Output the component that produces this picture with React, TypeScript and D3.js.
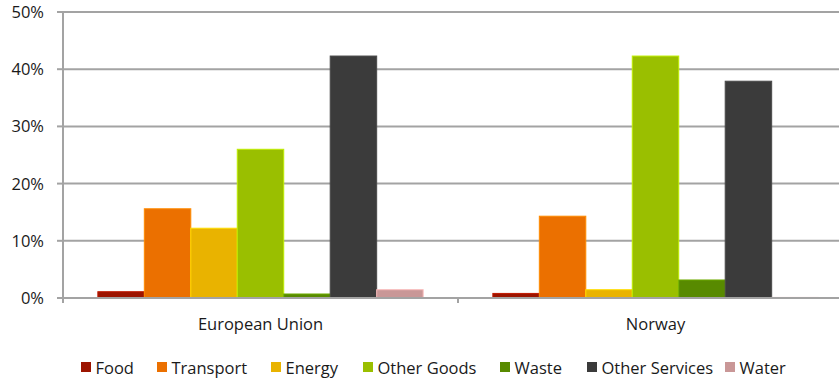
import React from "react";
import * as d3 from "d3";

const categories = ["European Union", "Norway"];
const seriesNames = ["Food", "Transport", "Energy", "Other Goods", "Waste", "Other Services", "Water"];
const seriesColors = ["#9c1400", "#eb7000", "#e9b300", "#9abf00", "#588a00", "#3b3b3b", "#c99797"];
const food = [1.1, 0.8];
const transport = [15.6, 14.3];
const energy = [12.2, 1.45];
const otherGoods = [26.0, 42.3];
const waste = [0.7, 3.15];
const otherServices = [42.3, 37.9];
const water = [1.45, 0.1];
const yTicks = [0, 10, 20, 30, 40, 50];

const seriesValues = [food, transport, energy, otherGoods, waste, otherServices, water];

const W = 839;
const H = 381;
const left = 63;
const right = 853;
const top = 12;
const bottom = 298;
const FONT = "'Open Sans', sans-serif";

export default function App() {
  const x0 = d3.scaleBand<string>().domain(categories).range([left, right]).paddingInner(0).paddingOuter(0);
  const bw = x0.bandwidth();
  const barW = bw / 8.5;
  const x1 = d3
    .scaleBand<string>()
    .domain(seriesNames)
    .range([barW * 0.75, bw - barW * 0.75])
    .padding(0);
  const y = d3.scaleLinear().domain([0, 50]).range([bottom, top]);
  const gridColor = "#a3a3a3";

  const legendX = [81, 157, 271, 363, 500, 587, 725];

  return (
    <div style={{ position: "absolute", left: 0, top: 0 }}>
      <svg width={W} height={H} style={{ display: "block", background: "#fff" }}>
        {yTicks.map((t) => (
          <g key={t}>
            <line x1={left} x2={W} y1={y(t)} y2={y(t)} stroke={gridColor} strokeWidth={2} />
            <line x1={left - 6} x2={left} y1={y(t)} y2={y(t)} stroke={gridColor} strokeWidth={2} />
            <text
              x={44}
              y={y(t)}
              dy="0.36em"
              textAnchor="end"
              fontFamily={FONT}
              fontSize={16.5}
              fill="#1a1a1a"
            >
              {t}%
            </text>
          </g>
        ))}
        <line x1={left} x2={left} y1={top} y2={bottom + 5} stroke={gridColor} strokeWidth={2} />
        {categories.map((c, ci) => (
          <g key={c}>
            {seriesNames.map((s, si) => {
              const v = seriesValues[si][ci];
              const bx = (x0(c) as number) + (x1(s) as number);
              const col = seriesColors[si];
              return (
                <rect
                  key={s}
                  x={bx}
                  y={y(v)}
                  width={x1.bandwidth()}
                  height={bottom - y(v)}
                  fill={col}
                  stroke={d3.color(col)!.brighter(0.6).formatHex()}
                  strokeWidth={1}
                />
              );
            })}
            <text
              x={(x0(c) as number) + bw / 2}
              y={330}
              textAnchor="middle"
              fontFamily={FONT}
              fontSize={16.5}
              fill="#1a1a1a"
            >
              {c}
            </text>
            <line
              x1={(x0(c) as number) + bw}
              x2={(x0(c) as number) + bw}
              y1={bottom}
              y2={bottom + 5}
              stroke={gridColor}
              strokeWidth={2}
            />
          </g>
        ))}
        <line x1={left} x2={W} y1={bottom} y2={bottom} stroke={gridColor} strokeWidth={2} />
        {seriesNames.map((s, i) => (
          <g key={s}>
            <rect x={legendX[i]} y={362} width={10} height={10} fill={seriesColors[i]} />
            <text x={legendX[i] + 14.5} y={374} fontFamily={FONT} fontSize={16.5} fill="#1a1a1a">
              {s}
            </text>
          </g>
        ))}
      </svg>
    </div>
  );
}
